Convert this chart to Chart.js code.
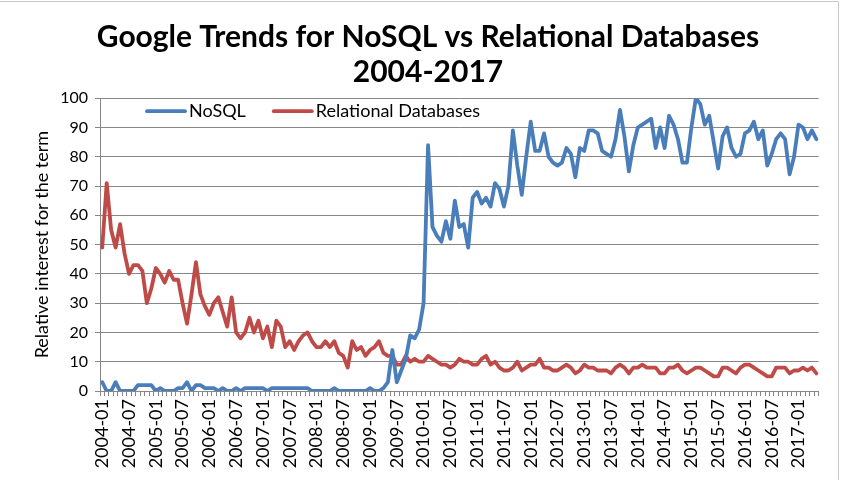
<!DOCTYPE html>
<html>
<head>
<meta charset="utf-8">
<script src="https://cdn.jsdelivr.net/npm/chart.js@4.4.0/dist/chart.umd.min.js"></script>
<style>
  html, body { margin: 0; padding: 0; background: #fff; }
</style>
</head>
<body>
<canvas id="trendsChart" width="841" height="480"></canvas>
<script>
// monthly categories, 2004-01 .. 2017-05
const years = [2004, 2005, 2006, 2007, 2008, 2009, 2010, 2011, 2012, 2013, 2014, 2015, 2016, 2017];
const months = ['01', '02', '03', '04', '05', '06', '07', '08', '09', '10', '11', '12'];
const lastMonthOfData = 5;
const labelEvery = 6;

const nosql = [
    3, 0, 0, 3, 0, 0, 0, 0, 2, 2, 2, 2,
    0, 1, 0, 0, 0, 1, 1, 3, 0, 2, 2, 1,
    1, 1, 0, 1, 0, 0, 1, 0, 1, 1, 1, 1,
    1, 0, 1, 1, 1, 1, 1, 1, 1, 1, 1, 0,
    0, 0, 0, 0, 1, 0, 0, 0, 0, 0, 0, 0,
    1, 0, 0, 1, 3, 14, 3, 7, 11, 19, 18, 21,
    30, 84, 56, 53, 51, 58, 52, 65, 56, 57, 49, 66,
    68, 64, 66, 63, 71, 69, 63, 70, 89, 77, 67, 80,
    92, 82, 82, 88, 80, 78, 77, 78, 83, 81, 73, 83,
    82, 89, 89, 88, 82, 81, 80, 86, 96, 87, 75, 84,
    90, 91, 92, 93, 83, 90, 83, 94, 91, 86, 78, 78,
    90, 100, 98, 91, 94, 85, 76, 87, 90, 83, 80, 81,
    88, 89, 92, 86, 89, 77, 81, 86, 88, 86, 74, 80,
    91, 90, 86, 89, 86
];

const relational = [
    49, 71, 55, 49, 57, 47, 40, 43, 43, 41, 30, 35,
    42, 40, 37, 41, 38, 38, 30, 23, 33, 44, 33, 29,
    26, 30, 32, 27, 22, 32, 20, 18, 20, 25, 20, 24,
    18, 22, 15, 24, 22, 15, 17, 14, 17, 19, 20, 17,
    15, 15, 17, 15, 17, 13, 12, 8, 17, 14, 15, 12,
    14, 15, 17, 13, 12, 12, 9, 9, 12, 10, 11, 10,
    10, 12, 11, 10, 9, 9, 8, 9, 11, 10, 10, 9,
    9, 11, 12, 9, 10, 8, 7, 7, 8, 10, 7, 8,
    9, 9, 11, 8, 8, 7, 7, 8, 9, 8, 6, 7,
    9, 8, 8, 7, 7, 7, 6, 8, 9, 8, 6, 8,
    8, 9, 8, 8, 8, 6, 6, 8, 8, 9, 7, 6,
    7, 8, 8, 7, 6, 5, 5, 8, 8, 7, 6, 8,
    9, 9, 8, 7, 6, 5, 5, 8, 8, 8, 6, 7,
    7, 8, 7, 8, 6
];

const categorias = [];
years.forEach(function(y) {
    months.forEach(function(m, i) {
        if (y === years[years.length - 1] && i >= lastMonthOfData) return;
        categorias.push(y + '-' + m);
    });
});

const fuente = 'Lato, "Liberation Sans", sans-serif';
const gris = '#878787';

// fondo blanco y marco del grafico
const fondo = {
    id: 'fondo',
    beforeDraw(chart) {
        const ctx = chart.ctx;
        ctx.save();
        ctx.fillStyle = '#fff';
        ctx.fillRect(0, 0, chart.width, chart.height);
        ctx.strokeStyle = '#c8c8c8';
        ctx.lineWidth = 1;
        ctx.beginPath();
        ctx.moveTo(0, 1.5);
        ctx.lineTo(838.5, 1.5);
        ctx.lineTo(838.5, chart.height);
        ctx.stroke();
        ctx.restore();
    }
};

// leyenda dentro del area del grafico
const leyenda = {
    id: 'leyenda',
    afterDatasetsDraw(chart) {
        const ctx = chart.ctx;
        const area = chart.chartArea;
        let x = area.left + 47;
        const y = area.top + 13;
        ctx.save();
        ctx.font = '18px ' + fuente;
        ctx.textBaseline = 'middle';
        chart.data.datasets.forEach(function(ds) {
            ctx.strokeStyle = ds.borderColor;
            ctx.lineWidth = ds.borderWidth;
            ctx.lineCap = 'round';
            ctx.beginPath();
            ctx.moveTo(x, y);
            ctx.lineTo(x + 38, y);
            ctx.stroke();
            ctx.fillStyle = '#000';
            ctx.fillText(ds.label, x + 42, y);
            x += 42 + ctx.measureText(ds.label).width + 28;
        });
        ctx.restore();
    }
};

const ctx = document.getElementById('trendsChart').getContext('2d');
new Chart(ctx, {
    type: 'line',
    data: {
        labels: categorias,
        datasets: [{
            label: 'NoSQL',
            data: nosql,
            borderColor: '#4A7EBB',
            backgroundColor: '#4A7EBB',
            borderWidth: 3.8,
            pointRadius: 0,
            tension: 0,
            borderJoinStyle: 'round',
            borderCapStyle: 'round'
        }, {
            label: 'Relational Databases',
            data: relational,
            borderColor: '#BE4B48',
            backgroundColor: '#BE4B48',
            borderWidth: 3.8,
            pointRadius: 0,
            tension: 0,
            borderJoinStyle: 'round',
            borderCapStyle: 'round'
        }]
    },
    options: {
        responsive: false,
        animation: false,
        devicePixelRatio: 1,
        layout: {
            padding: { left: 30, right: 15, top: 0, bottom: 0 }
        },
        scales: {
            x: {
                type: 'category',
                offset: true,
                afterFit: function(scale) { scale.height = 89; },
                grid: {
                    offset: true,
                    drawOnChartArea: false,
                    tickLength: 5,
                    color: gris
                },
                border: { color: gris, width: 1 },
                ticks: {
                    autoSkip: false,
                    maxRotation: 90,
                    minRotation: 90,
                    padding: 3,
                    color: '#000',
                    font: { family: fuente, size: 18 },
                    callback: function(value, index) {
                        return index % labelEvery === 0 ? this.getLabelForValue(value) : '';
                    }
                }
            },
            y: {
                min: 0,
                max: 100,
                afterFit: function(scale) { scale.width = 70; },
                grid: {
                    color: gris,
                    tickLength: 5
                },
                border: { color: gris, width: 1 },
                ticks: {
                    stepSize: 10,
                    padding: 7,
                    color: '#000',
                    font: { family: fuente, size: 16 }
                },
                title: {
                    display: true,
                    text: 'Relative interest for the term',
                    color: '#000',
                    font: { family: fuente, size: 18 },
                    padding: { top: 1, bottom: 0 }
                }
            }
        },
        plugins: {
            legend: { display: false },
            tooltip: { enabled: false },
            title: {
                display: true,
                text: ['Google Trends for NoSQL vs Relational Databases', '2004-2017'],
                color: '#000',
                font: { family: fuente, size: 30, weight: 'bold', lineHeight: 1.17 },
                padding: { top: 20, bottom: 8 }
            }
        }
    },
    plugins: [fondo, leyenda]
});
</script>
</body>
</html>
